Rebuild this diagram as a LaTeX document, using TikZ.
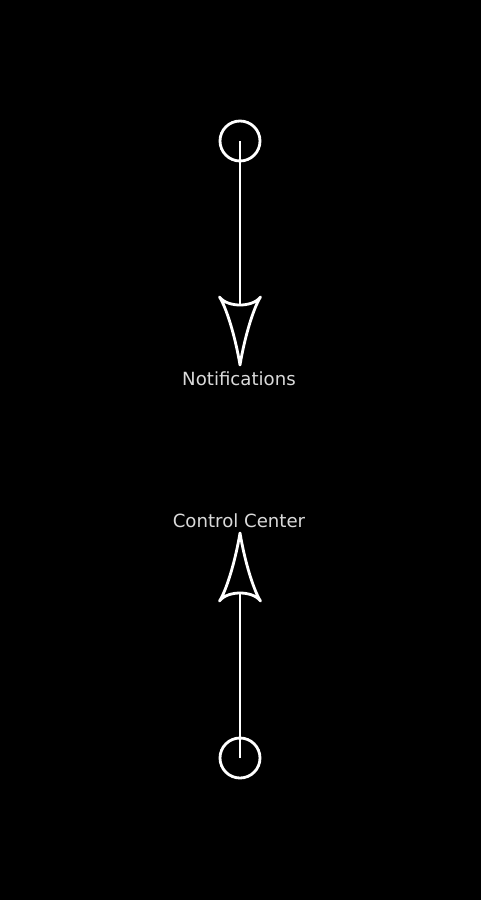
\documentclass[tikz,border=0pt]{standalone}
\usepackage{fontspec}
\setmainfont{DejaVu Sans}
\usepackage{tikz}
\usetikzlibrary{positioning}
\usepackage{xcolor}
\definecolor{bgblack}{RGB}{0, 0, 0}
\definecolor{linewhite}{RGB}{255, 255, 255}
\definecolor{labelgray}{RGB}{218, 218, 218}

\begin{document}
\begin{tikzpicture}[
    x=0.025cm, y=-0.025cm,
    endpoint/.style={circle, draw=linewhite, line width=2pt, minimum size=1cm, inner sep=0pt},
    label/.style={text=labelgray, font=\fontsize{12.9}{15}\selectfont, inner sep=0pt},
    shaft/.style={draw=linewhite, line width=2pt},
    spearhead/.pic={
        \draw[linewhite, line width=2pt, line join=round]
            (0,-60) .. controls (-7,-60) and (-16,-62) .. (-20.5,-68)
            .. controls (-14,-58) and (-5,-30) .. (0,0)
            .. controls (5,-30) and (14,-58) .. (20.5,-68)
            .. controls (16,-62) and (7,-60) .. (0,-60);
    }
]

% Background
\fill[bgblack] (0,0) rectangle (481,900);
\useasboundingbox (0,0) rectangle (481,900);

% Top: notifications
\node[endpoint] (topdot) at (240,141) {};
\node[label] (notif) at (239,379) {Notifications};
\coordinate (toptip) at (240,365);
\coordinate (topback) at (240,305);
\draw[shaft] (topdot.center) -- (topback);
\pic at (toptip) {spearhead};

% Bottom: control center
\node[endpoint] (botdot) at (240,758) {};
\node[label] (ctrl) at (239,521) {Control Center};
\coordinate (bottip) at (240,533);
\coordinate (botback) at (240,593);
\draw[shaft] (botdot.center) -- (botback);
\pic[rotate=180] at (bottip) {spearhead};

\end{tikzpicture}
\end{document}
